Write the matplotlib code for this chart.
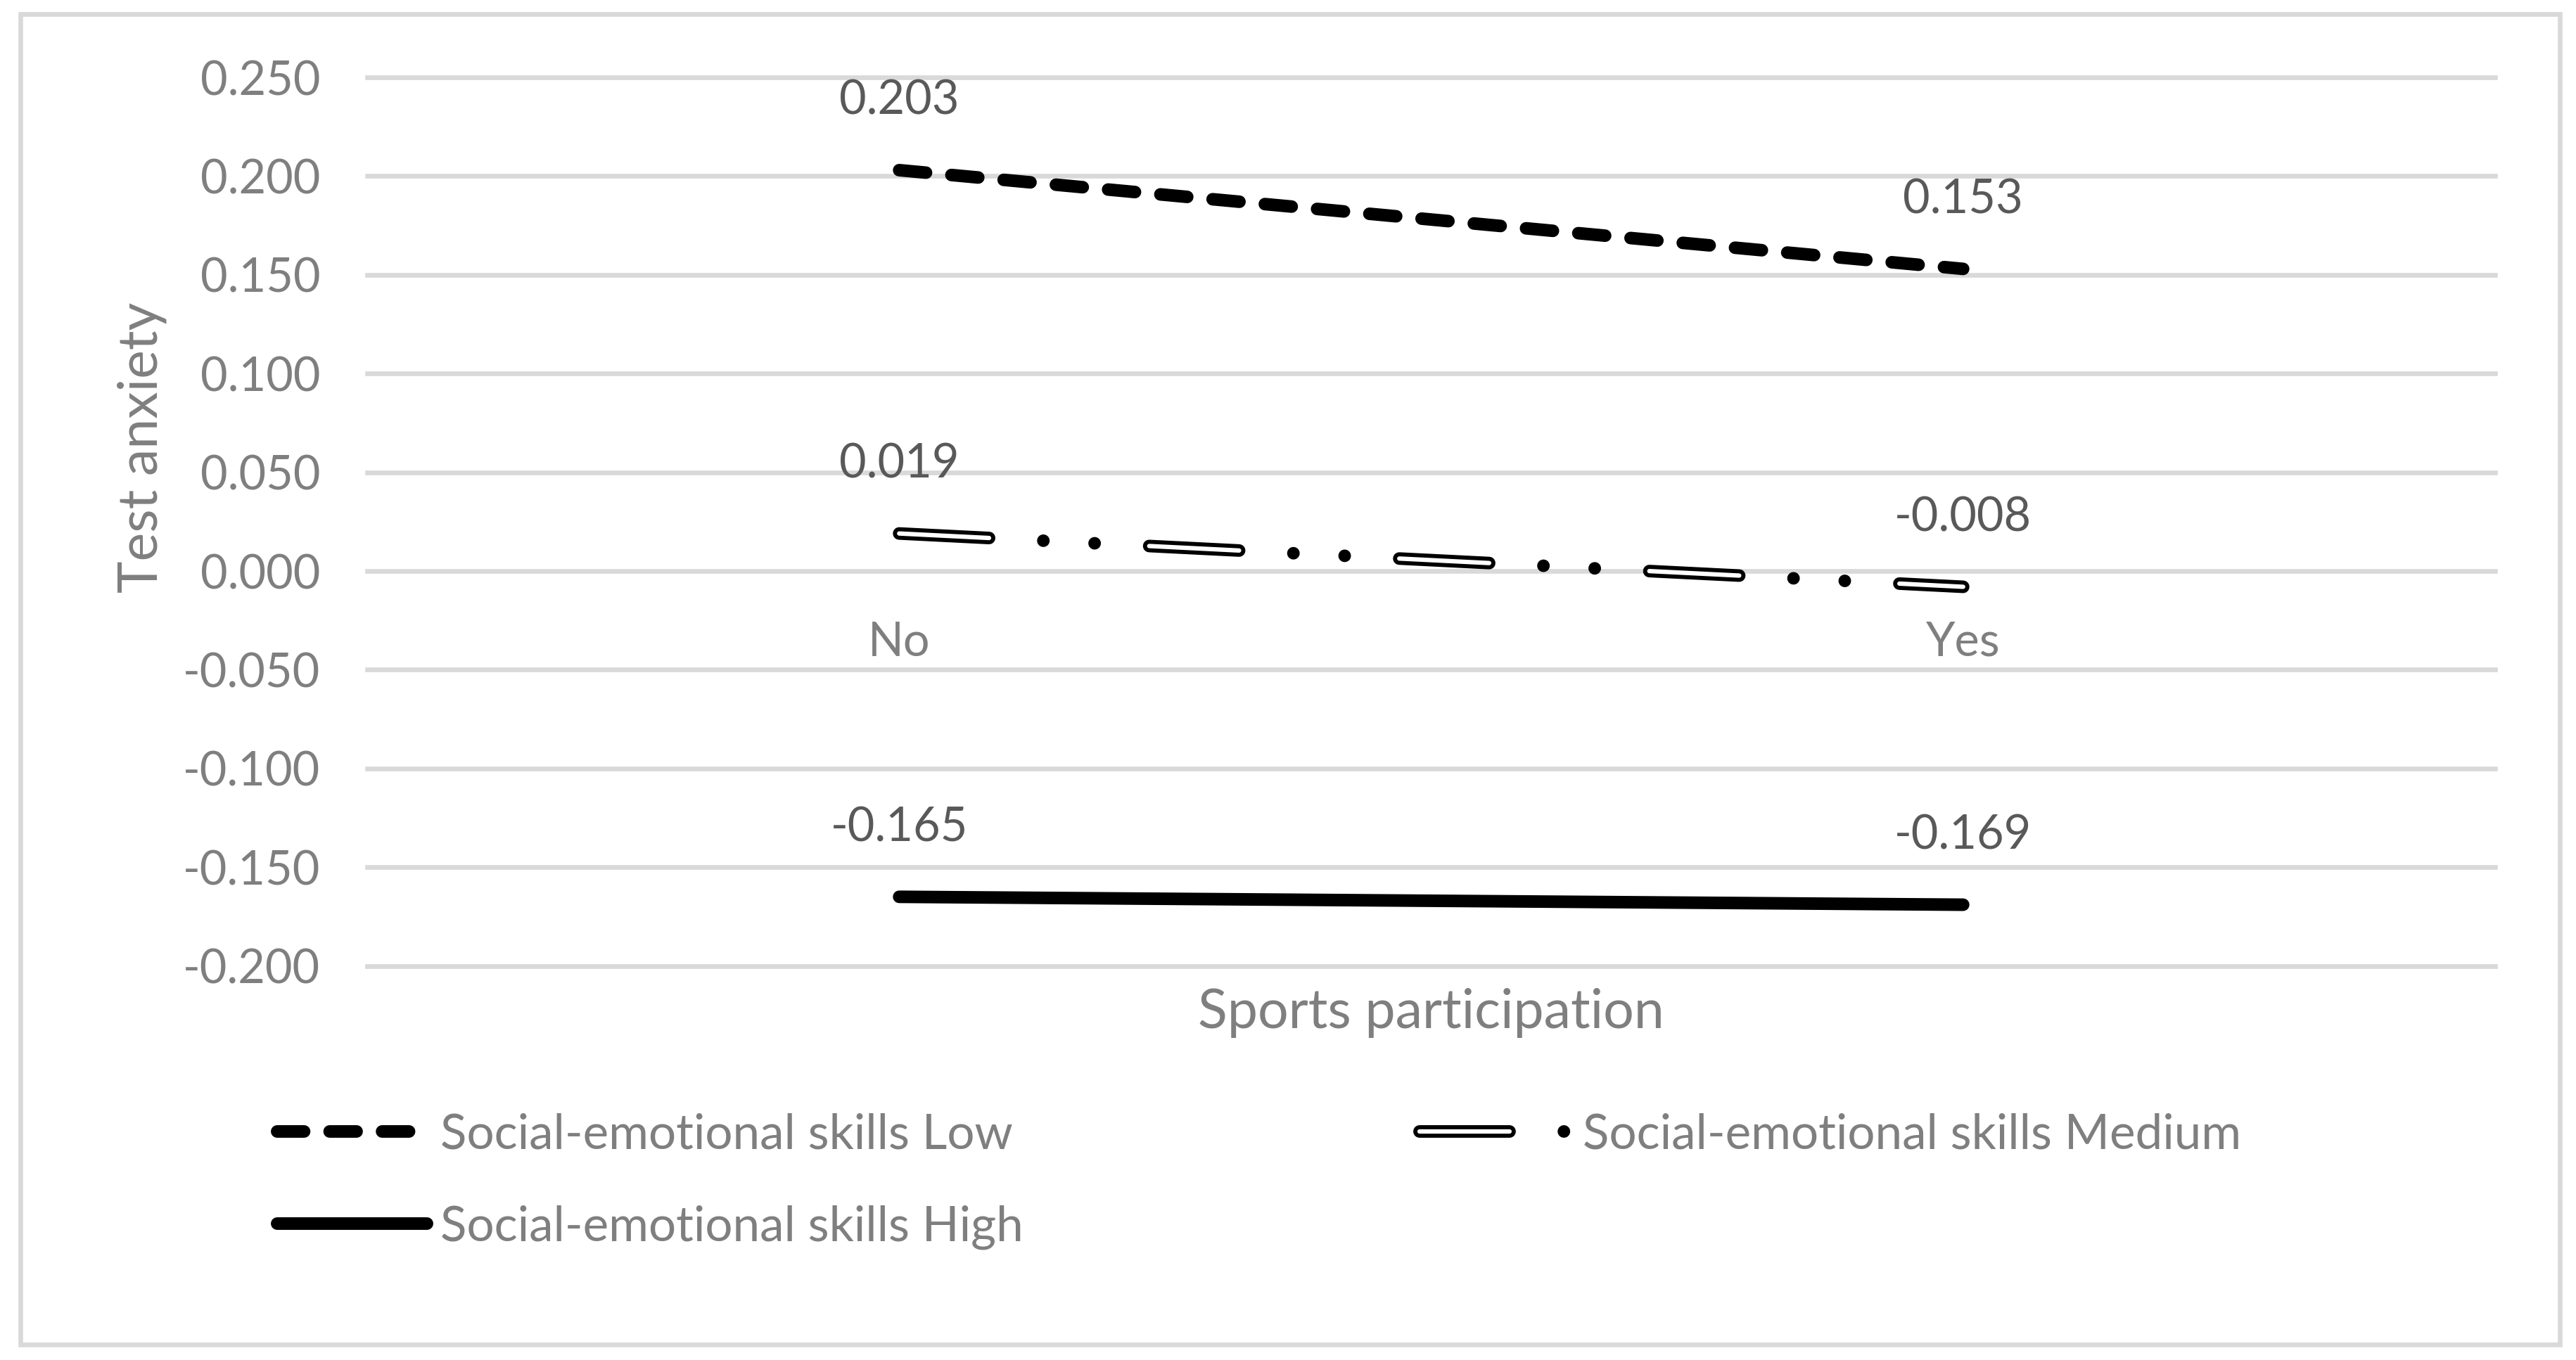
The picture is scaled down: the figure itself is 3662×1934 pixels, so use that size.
import matplotlib
matplotlib.use("Agg")
import matplotlib.pyplot as plt
from matplotlib.lines import Line2D
from matplotlib.patches import Rectangle
import numpy as np

# ---------------- data ----------------
categories = ["No", "Yes"]
series_names = ["Social-emotional skills Low",
                "Social-emotional skills Medium",
                "Social-emotional skills High"]
low_values = [0.203, 0.153]
medium_values = [0.019, -0.008]
high_values = [-0.165, -0.169]
y_ticks = [-0.200, -0.150, -0.100, -0.050, 0.000, 0.050, 0.100, 0.150, 0.200, 0.250]
y_title = "Test anxiety"
x_title = "Sports participation"

# ---------------- style ----------------
plt.rcParams["font.family"] = ["Lato", "DejaVu Sans"]
plt.rcParams["lines.scale_dashes"] = False
TICK_C = "#7f7f7f"
LABEL_C = "#595959"
GRID_C = "#d9d9d9"
FS = 16
FS_LEG = 16.6
FS_T = 18.5
LW = 4.3

W, H, DPI = 3662, 1934, 300
fig = plt.figure(figsize=(W / DPI, H / DPI), dpi=DPI)
fig.patch.set_facecolor("white")

# outer chart border
fig.patches.append(Rectangle((28.5 / W, 1 - 1912 / H), (3638.5 - 28.5) / W, (1912 - 20) / H,
                             transform=fig.transFigure, fill=False,
                             edgecolor=GRID_C, linewidth=1.6))

ax_l, ax_r = 522 / W, 3547 / W
ax_t, ax_b = 1 - 110 / H, 1 - 1373.6 / H
ax = fig.add_axes([ax_l, ax_b, ax_r - ax_l, ax_t - ax_b])

x = np.arange(len(categories))

# Low: dashed
l_low, = ax.plot(x, low_values, color="black", lw=LW, solid_capstyle="round",
                 dash_capstyle="round", zorder=3)
l_low.set_dashes((9.2, 8.7))

# Medium: hollow long dash + two dots
med_black, = ax.plot(x, medium_values, color="black", lw=LW, dash_capstyle="round",
                     solid_capstyle="round", zorder=3)
med_black.set_dashes((30.7, 18.55, 0.01, 17.5, 0.01, 18.65))
med_white, = ax.plot(x, medium_values, color="white", lw=1.5, dash_capstyle="round",
                     solid_capstyle="round", zorder=4)
med_white.set_dashes((30.7, 54.72))

# High: solid
l_high, = ax.plot(x, high_values, color="black", lw=LW, solid_capstyle="round", zorder=3)

# data labels
for vals in (low_values, medium_values, high_values):
    for xi, v in zip(x, vals):
        ax.annotate(f"{v:.3f}", (xi, v), xytext=(0, 19), textcoords="offset points",
                    ha="center", va="baseline", fontsize=FS, color=LABEL_C, zorder=5)

ax.set_xlim(-0.5, len(categories) - 0.5)
ax.set_ylim(min(y_ticks), max(y_ticks))
ax.set_yticks(y_ticks)
ax.set_yticklabels([f"{t:.3f}" for t in y_ticks])
ax.set_xticks(x)
ax.set_xticklabels(categories)

for s in ax.spines.values():
    s.set_visible(False)
ax.spines["bottom"].set_position(("data", 0))

ax.tick_params(axis="y", length=0, pad=16, labelsize=FS, labelcolor=TICK_C)
ax.tick_params(axis="x", length=0, pad=17, labelsize=FS, labelcolor=TICK_C)

ax.grid(axis="y", color=GRID_C, lw=1.6, zorder=0)
ax.set_axisbelow(True)
for gl in ax.get_ygridlines():
    gl.set_clip_on(False)

ax.set_ylabel(y_title, fontsize=FS_T, color=TICK_C)
ax.yaxis.set_label_coords(-0.0942, 0.5837)
ax.set_xlabel(x_title, fontsize=FS_T, color=TICK_C, va="center")
ax.xaxis.set_label_coords(0.5, -0.0533)

# legends
HL_PT = 51.2
PAD_PT = 4.6

def add_leg(handle, label, fx, fy):
    leg = fig.legend([handle], [label], loc="center left",
                     bbox_to_anchor=(fx, fy), bbox_transform=fig.transFigure,
                     frameon=False, fontsize=FS_LEG, borderpad=0, borderaxespad=0,
                     handlelength=HL_PT / FS_LEG, handletextpad=PAD_PT / FS_LEG,
                     labelcolor=TICK_C)
    return leg

cap = LW / 2 / 72 * DPI
add_leg(l_low, series_names[0], (385 + cap) / W, 1 - 1614 / H)
add_leg((med_black, med_white), series_names[1], (2009 + cap) / W, 1 - 1614 / H)
add_leg(l_high, series_names[2], (385 + cap) / W, 1 - 1745 / H)

fig.savefig("out.png", dpi=DPI, facecolor="white")
